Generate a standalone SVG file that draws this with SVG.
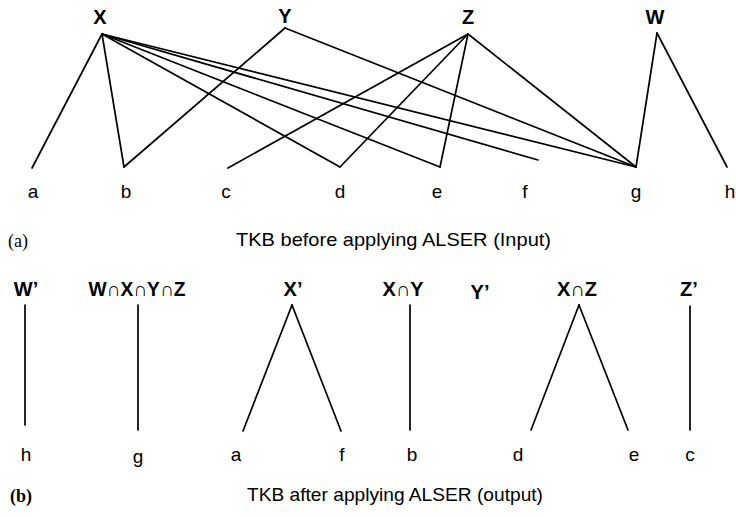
<svg xmlns="http://www.w3.org/2000/svg" width="736" height="517" viewBox="0 0 736 517">
<style>
.e{stroke:#000;stroke-width:1.7;fill:none;stroke-linecap:round}
.h{font-family:"Liberation Sans",Arial,sans-serif;font-weight:bold;font-size:20px;text-anchor:middle;fill:#000}
.l{font-family:"Liberation Sans",Arial,sans-serif;font-size:19px;text-anchor:middle;fill:#000}
.c{font-family:"Liberation Sans",Arial,sans-serif;font-size:19px;fill:#000}
.p{font-family:"Liberation Serif","Times New Roman",serif;font-size:18px;fill:#000}
</style>
<rect width="736" height="517" fill="#fff"/>
<g id="connectors">
<line class="e" x1="102" y1="34" x2="32" y2="168"/>
<line class="e" x1="102" y1="34" x2="124" y2="167"/>
<line class="e" x1="102" y1="34" x2="340" y2="167"/>
<line class="e" x1="102" y1="34" x2="440" y2="167"/>
<line class="e" x1="102" y1="34" x2="538" y2="160"/>
<line class="e" x1="102" y1="34" x2="636" y2="167"/>
<line class="e" x1="285" y1="28" x2="124" y2="167"/>
<line class="e" x1="285" y1="28" x2="636" y2="167"/>
<line class="e" x1="468" y1="34" x2="228" y2="168"/>
<line class="e" x1="468" y1="34" x2="340" y2="167"/>
<line class="e" x1="468" y1="34" x2="440" y2="167"/>
<line class="e" x1="468" y1="34" x2="636" y2="167"/>
<line class="e" x1="657" y1="33" x2="636" y2="167"/>
<line class="e" x1="657" y1="33" x2="727" y2="167"/>
<line class="e" x1="25" y1="305" x2="25" y2="425"/>
<line class="e" x1="138" y1="305" x2="138" y2="430"/>
<line class="e" x1="292" y1="305" x2="243" y2="431"/>
<line class="e" x1="292" y1="305" x2="341" y2="431"/>
<line class="e" x1="410" y1="305" x2="410" y2="430"/>
<line class="e" x1="579" y1="305" x2="531" y2="430"/>
<line class="e" x1="579" y1="305" x2="628" y2="430"/>
<line class="e" x1="690" y1="306" x2="690" y2="430"/>
</g>
<g id="X"><text class="h" x="100" y="24">X</text></g>
<g id="Y"><text class="h" x="285" y="23">Y</text></g>
<g id="Z"><text class="h" x="468" y="24">Z</text></g>
<g id="W"><text class="h" x="655" y="24">W</text></g>
<g id="a"><text class="l" x="33" y="198">a</text></g>
<g id="b"><text class="l" x="126" y="198">b</text></g>
<g id="c"><text class="l" x="226" y="198">c</text></g>
<g id="d"><text class="l" x="340" y="198">d</text></g>
<g id="e"><text class="l" x="437" y="198">e</text></g>
<g id="f"><text class="l" x="525" y="198">f</text></g>
<g id="g"><text class="l" x="636" y="198">g</text></g>
<g id="h"><text class="l" x="730" y="198">h</text></g>
<text class="p" x="8" y="247">(a)</text>
<text class="c" x="236" y="246" textLength="315" lengthAdjust="spacingAndGlyphs">TKB before applying ALSER (Input)</text>
<g id="Wp"><text class="h" x="26" y="296">W’</text></g>
<g id="WXYZ"><text class="h" x="137" y="296" textLength="97" lengthAdjust="spacingAndGlyphs">W∩X∩Y∩Z</text></g>
<g id="Xp"><text class="h" x="293" y="296">X’</text></g>
<g id="XY"><text class="h" x="403" y="296">X∩Y</text></g>
<g id="Yp"><text class="h" x="480" y="299">Y’</text></g>
<g id="XZ"><text class="h" x="577" y="296">X∩Z</text></g>
<g id="Zp"><text class="h" x="689" y="296">Z’</text></g>
<g id="h2"><text class="l" x="26" y="461">h</text></g>
<g id="g2"><text class="l" x="138" y="463">g</text></g>
<g id="a2"><text class="l" x="236" y="461">a</text></g>
<g id="f2"><text class="l" x="342" y="461">f</text></g>
<g id="b2"><text class="l" x="412" y="461">b</text></g>
<g id="d2"><text class="l" x="518" y="461">d</text></g>
<g id="e2"><text class="l" x="634" y="461">e</text></g>
<g id="c2"><text class="l" x="690" y="461">c</text></g>
<text class="p" x="10" y="502" font-weight="bold">(b)</text>
<text class="c" x="247" y="501" textLength="296" lengthAdjust="spacingAndGlyphs">TKB after applying ALSER (output)</text>
</svg>
